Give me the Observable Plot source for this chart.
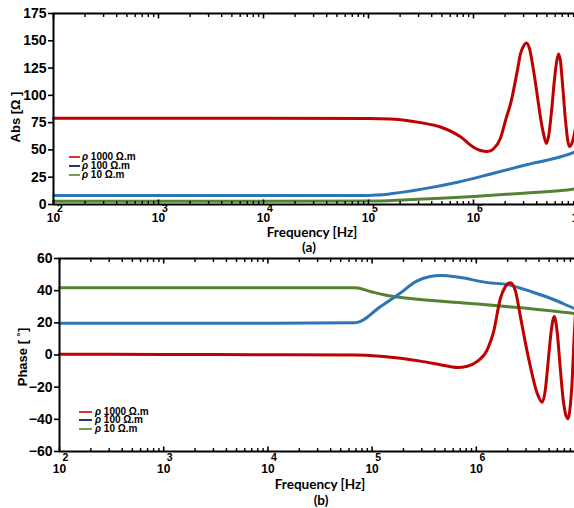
<!DOCTYPE html>
<html>
<head>
<meta charset="utf-8">
<script src="https://cdn.jsdelivr.net/npm/d3@7"></script>
<script src="https://cdn.jsdelivr.net/npm/@observablehq/plot@0.6"></script>
<style>
  html, body { margin: 0; padding: 0; background: #fff; }
  #wrap { position: relative; width: 574px; height: 508px; overflow: hidden; font-family: "Liberation Sans", Arial, sans-serif; }
  #wrap svg { max-width: none !important; }
  .pan { position: absolute; left: 0; }
  .lbl { position: absolute; transform: translate(-50%, -50%); white-space: nowrap; font-weight: bold; color: #000; }
  .ytitle { font-family: "Liberation Sans", Arial, sans-serif; font-size: 13px; transform: translate(-50%, -50%) rotate(-90deg); }
  .xtitle { font-family: Lato, "Open Sans", sans-serif; font-size: 13.5px; }
  .leg { position: absolute; font-family: "Liberation Sans", Arial, sans-serif; font-weight: bold; font-size: 10px; line-height: 10px; white-space: nowrap; }
  .leg .sw { position: absolute; height: 2px; }
  .leg .tx { position: absolute; transform: translateY(-50%); }
</style>
</head>
<body>
<div id="wrap">
  <div id="a" class="pan" style="top:0px"></div>
  <div id="b" class="pan" style="top:247px"></div>
</div>
<script>
// ---------- data ----------
const decades = [1e2, 1e3, 1e4, 1e5, 1e6, 1e7];
const minors = [];
for (let k = 2; k < 7; k++) for (let m = 2; m <= 9; m++) minors.push(m * Math.pow(10, k));
const absTicks = [0, 25, 50, 75, 100, 125, 150, 175];
const phaseTicks = [-60, -40, -20, 0, 20, 40, 60];
const seriesNames = ["1000 Ω.m", "100 Ω.m", "10 Ω.m"];

// (a) Abs [Ω]
const absF1000 = [1e2, 1e3, 1e4, 1e5, 1.62e5, 2.3e5, 3.13e5, 4.85e5, 7.52e5, 1e6, 1.17e6, 1.36e6, 1.55e6, 1.81e6, 1.93e6, 2.06e6, 2.25e6, 2.62e6, 2.8e6, 2.99e6, 3.2e6, 3.41e6, 3.73e6, 3.98e6, 4.16e6, 4.34e6, 4.64e6, 4.95e6, 5.18e6, 5.53e6, 5.91e6, 6.17e6, 6.45e6, 6.74e6, 7.05e6, 7.52e6, 7.86e6, 8.2e6, 8.57e6, 8.96e6, 9.36e6];
const abs1000  = [79, 79, 79, 78.8, 78.3, 77, 75, 71, 62, 52.5, 49.5, 48.5, 51, 61, 70, 80, 92, 123, 138, 145, 148, 143, 123, 105, 92, 80, 65, 56, 62, 85, 115, 130, 138, 131, 110, 77, 60, 53, 55, 61, 70];
const absF100 = [1e2, 1e3, 1e4, 1e5, 1.2e5, 1.62e5, 3.34e5, 7.05e5, 1.46e6, 2.99e6, 9.2e6, 1e7];
const abs100  = [8.2, 8.2, 8.2, 8.3, 8.6, 9.8, 14.3, 20.4, 28, 35.7, 48, 49.5];
const absF10 = [1e2, 1e3, 1e4, 1e5, 2.34e5, 1e6, 2.99e6, 9.2e6, 1e7];
const abs10  = [3, 3, 3, 3.1, 4.3, 7.3, 10.4, 14.4, 15];

// (b) Phase [˚]
const phF1000 = [1e2, 1e3, 1e4, 6.9e4, 1.2e5, 1.87e5, 2.9e5, 4.52e5, 6.58e5, 8.2e5, 1.02e6, 1.28e6, 1.46e6, 1.7e6, 1.9e6, 2.12e6, 2.37e6, 2.64e6, 2.95e6, 3.3e6, 3.85e6, 4.3e6, 4.59e6, 4.91e6, 5.24e6, 5.6e6, 5.98e6, 6.39e6, 6.83e6, 7.21e6, 7.62e6, 7.97e6, 8.33e6, 8.71e6, 9.1e6];
const ph1000  = [0.5, 0.3, 0.2, 0, -0.8, -2, -3.8, -6, -7.8, -7, -4, 3.5, 14, 35, 42.5, 45, 40, 24.5, 8, -7, -24, -29.4, -22, -3, 15, 24, 14, -8, -28, -37, -39.7, -32, -15, 13, 35];
const phF100 = [1e2, 1e3, 1e4, 6.9e4, 1.2e5, 1.87e5, 2.6e5, 3.6e5, 4.6e5, 6.6e5, 1.28e6, 1.98e6, 3.5e6, 5.5e6, 8.7e6, 1e7];
const ph100  = [19.8, 19.8, 19.8, 20, 30, 38.5, 45.5, 48.8, 49.4, 48.5, 45, 43.8, 39, 34.5, 29, 27.5];
const phF10 = [1e2, 1e3, 1e4, 6.9e4, 9.6e4, 1.4e5, 2.33e5, 8.2e5, 2.5e6, 8.7e6, 1e7];
const ph10  = [41.8, 41.8, 41.8, 41.8, 39.5, 37, 35.1, 32.2, 29.5, 25.8, 25.3];

const curveColors = ["#c00000", "#2e75b6", "#548235"];
const legendColors = ["#e0302f", "#1f3a7a", "#6f9f4f"];

// ---------- helpers ----------
function frameMarks(yTicks) {
  return [
    Plot.axisY({anchor: "left", ticks: yTicks, tickSize: 5, tickPadding: 2, label: null,
      fontSize: 14, fontWeight: "bold", strokeWidth: 1.6}),
    Plot.axisY({anchor: "right", ticks: yTicks, tickSize: 5, dx: -5, label: null,
      tickFormat: () => "", strokeWidth: 1.6}),
    Plot.axisX({anchor: "bottom", ticks: decades, tickSize: 4.5, dy: -4.5, label: null, tickFormat: () => "", strokeWidth: 1.6}),
    Plot.axisX({anchor: "bottom", ticks: minors, tickSize: 3, dy: -3, label: null, tickFormat: () => "", strokeWidth: 1.4}),
    Plot.axisX({anchor: "top", ticks: decades, tickSize: 4.5, dy: 4.5, label: null, tickFormat: () => "", strokeWidth: 1.6}),
    Plot.axisX({anchor: "top", ticks: minors, tickSize: 3, dy: 3, label: null, tickFormat: () => "", strokeWidth: 1.4}),
    Plot.frame({stroke: "black", strokeWidth: 2})
  ];
}
function decadeLabels(dyBase, dyExp, dxExp) {
  return [
    Plot.text(decades, {x: d => d, text: () => "10", frameAnchor: "bottom", dy: dyBase, fontSize: 12, fontWeight: "bold"}),
    Plot.text(decades, {x: d => d, text: d => String(Math.round(Math.log10(d))), frameAnchor: "bottom", dy: dyExp, dx: dxExp, fontSize: 10.5, fontWeight: "bold"})
  ];
}
function curves(sets) {
  // sets in order [1000, 100, 10]; draw 10 first, 1000 on top
  return sets.map((s, i) => Plot.line(s[1], {x: s[0], y: s[1], stroke: curveColors[i], strokeWidth: 3, curve: "monotone-x"})).reverse();
}

// ---------- panel (a) ----------
const plotA = Plot.plot({
  width: 580, height: 232,
  marginLeft: 53, marginRight: 2, marginTop: 13, marginBottom: 28,
  style: {fontFamily: "'Liberation Sans', Arial, sans-serif", background: "transparent", overflow: "visible"},
  x: {type: "log", domain: [1e2, 1e7]},
  y: {domain: [0, 175]},
  marks: [
    ...curves([[absF1000, abs1000], [absF100, abs100], [absF10, abs10]]),
    ...frameMarks(absTicks),
    ...decadeLabels(17, 7.5, 6.5)
  ]
});
document.getElementById("a").appendChild(plotA);

// ---------- panel (b) ----------
const plotB = Plot.plot({
  width: 582, height: 233,
  marginLeft: 59, marginRight: 2, marginTop: 11, marginBottom: 29,
  style: {fontFamily: "'Liberation Sans', Arial, sans-serif", background: "transparent", overflow: "visible"},
  x: {type: "log", domain: [1e2, 1e7]},
  y: {domain: [-60, 60]},
  marks: [
    ...curves([[phF1000, ph1000], [phF100, ph100], [phF10, ph10]]),
    ...frameMarks(phaseTicks),
    ...decadeLabels(21, 9, 6)
  ]
});
document.getElementById("b").appendChild(plotB);

// ---------- titles & legends ----------
const wrap = document.getElementById("wrap");
function addLabel(text, cls, x, y) {
  const d = document.createElement("div");
  d.className = "lbl " + cls;
  d.style.left = x + "px"; d.style.top = y + "px";
  d.textContent = text;
  wrap.appendChild(d);
}
addLabel("Abs [Ω ]", "ytitle", 15, 117);
addLabel("Phase [ ˚]", "ytitle", 22, 357);
addLabel("Frequency [Hz]", "xtitle", 312, 232);
addLabel("(a)", "xtitle", 309, 247);
addLabel("Frequency [Hz]", "xtitle", 320, 484);
addLabel("(b)", "xtitle", 321, 500);

function addLegend(x0, x1, tx, ys) {
  seriesNames.forEach((name, i) => {
    const g = document.createElement("div");
    g.className = "leg";
    g.style.left = "0px"; g.style.top = "0px";
    const sw = document.createElement("div");
    sw.className = "sw";
    sw.style.left = x0 + "px"; sw.style.width = (x1 - x0) + "px";
    sw.style.top = (ys[i] - 1) + "px"; sw.style.background = legendColors[i];
    const t = document.createElement("div");
    t.className = "tx";
    t.style.left = tx + "px"; t.style.top = ys[i] + "px";
    t.innerHTML = "<i>ρ</i> " + name;
    g.appendChild(sw); g.appendChild(t);
    wrap.appendChild(g);
  });
}
addLegend(69, 80, 82, [157.3, 166, 174.7]);
addLegend(79, 92, 95, [411.7, 420, 428.7]);
</script>
</body>
</html>
